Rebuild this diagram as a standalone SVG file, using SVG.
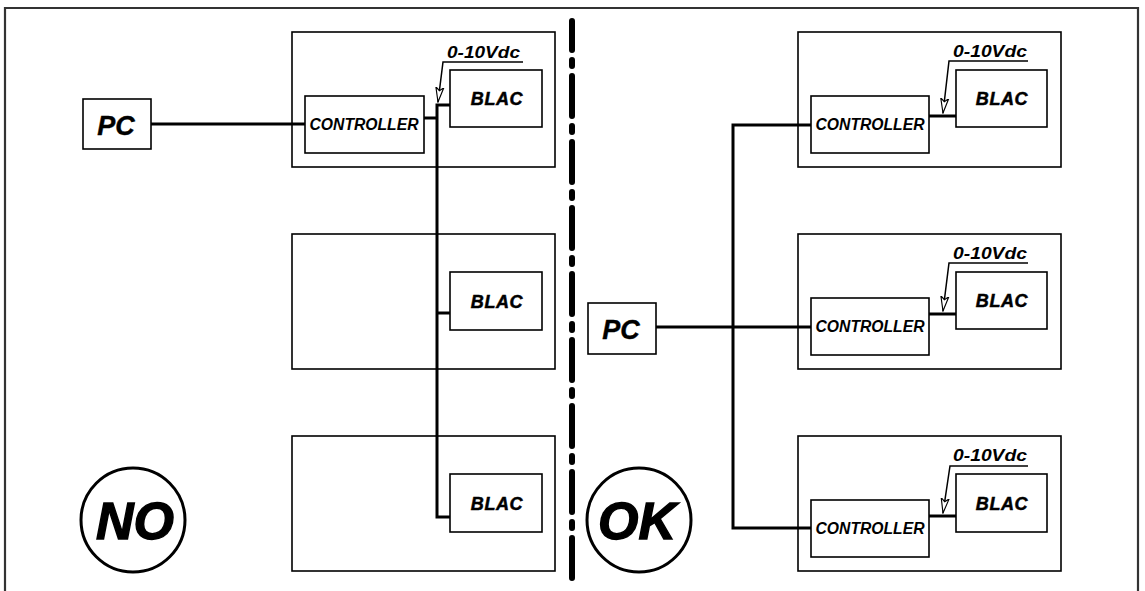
<svg xmlns="http://www.w3.org/2000/svg" width="1145" height="591" viewBox="0 0 1145 591">
<style>
.box{fill:#fff;stroke:#000;stroke-width:1.6}
.wire{fill:none;stroke:#000;stroke-width:3}
.thin{fill:none;stroke:#000;stroke-width:1.5}
.t{font-family:"Liberation Sans",Arial,sans-serif;font-weight:bold;font-style:italic;fill:#000}
.ctl{font-size:16px}
.blac{font-size:18px;stroke:#000;stroke-width:0.5;letter-spacing:0.6px}
.volt{font-size:17px}
.pc{font-size:27px;stroke:#000;stroke-width:0.4}
.big{font-size:52px;stroke:#000;stroke-width:1.4}
</style>
<defs>
<marker id="arr" markerUnits="userSpaceOnUse" markerWidth="16" markerHeight="10" refX="13" refY="3.5" orient="auto" viewBox="0 0 14 7">
<path d="M0,0 L13,3.5 L0,7 L3,3.5 Z" fill="#fff" stroke="#000" stroke-width="1"/>
</marker>
</defs>
<rect width="1145" height="591" fill="#fff"/>
<path d="M5,600 V8 H1138 V600" fill="none" stroke="#333" stroke-width="2.2"/>
<line id="divider" x1="572" y1="21" x2="572" y2="581" stroke="#000" stroke-width="6" stroke-linecap="round" stroke-dasharray="40 10 6 10" stroke-dashoffset="11"/>

<g id="left-pc"><rect class="box" x="83" y="99" width="68" height="50"/><text class="t pc" x="116" y="135" text-anchor="middle">PC</text></g>

<g id="left-unit1">
<rect class="box" x="292" y="32" width="263" height="135"/>
<rect class="box" x="305" y="96" width="119" height="57"/>
<text class="t ctl" x="364" y="130" text-anchor="middle" textLength="109" lengthAdjust="spacingAndGlyphs">CONTROLLER</text>
<rect class="box" x="450" y="70" width="92" height="57"/>
<text class="t blac" x="497" y="105" text-anchor="middle">BLAC</text>
<text class="t volt" x="447" y="58" textLength="73" lengthAdjust="spacingAndGlyphs">0-10Vdc</text>
</g>
<g id="left-unit2">
<rect class="box" x="292" y="234" width="263" height="135"/>
<rect class="box" x="450" y="272" width="92" height="58"/>
<text class="t blac" x="497" y="308" text-anchor="middle">BLAC</text>
</g>
<g id="left-unit3">
<rect class="box" x="292" y="436" width="263" height="135"/>
<rect class="box" x="450" y="474" width="92" height="58"/>
<text class="t blac" x="497" y="510" text-anchor="middle">BLAC</text>
</g>
<g id="no-badge"><circle cx="133" cy="520" r="52" fill="#fff" stroke="#000" stroke-width="3"/><text class="t big" x="135" y="539" text-anchor="middle">NO</text></g>

<g id="right-pc"><rect class="box" x="588" y="303" width="68" height="51"/><text class="t pc" x="621" y="339" text-anchor="middle">PC</text></g>

<g id="right-unit1">
<rect class="box" x="798" y="32" width="263" height="135"/>
<rect class="box" x="811" y="96" width="118" height="57"/>
<text class="t ctl" x="870" y="130" text-anchor="middle" textLength="109" lengthAdjust="spacingAndGlyphs">CONTROLLER</text>
<rect class="box" x="956" y="70" width="91" height="57"/>
<text class="t blac" x="1002" y="105" text-anchor="middle">BLAC</text>
<text class="t volt" x="953" y="57" textLength="74" lengthAdjust="spacingAndGlyphs">0-10Vdc</text>
</g>
<g id="right-unit2">
<rect class="box" x="798" y="234" width="263" height="135"/>
<rect class="box" x="811" y="298" width="118" height="57"/>
<text class="t ctl" x="870" y="332" text-anchor="middle" textLength="109" lengthAdjust="spacingAndGlyphs">CONTROLLER</text>
<rect class="box" x="956" y="272" width="91" height="57"/>
<text class="t blac" x="1002" y="307" text-anchor="middle">BLAC</text>
<text class="t volt" x="953" y="259" textLength="74" lengthAdjust="spacingAndGlyphs">0-10Vdc</text>
</g>
<g id="right-unit3">
<rect class="box" x="798" y="436" width="263" height="135"/>
<rect class="box" x="811" y="500" width="118" height="57"/>
<text class="t ctl" x="870" y="534" text-anchor="middle" textLength="109" lengthAdjust="spacingAndGlyphs">CONTROLLER</text>
<rect class="box" x="956" y="474" width="91" height="58"/>
<text class="t blac" x="1002" y="510" text-anchor="middle">BLAC</text>
<text class="t volt" x="953" y="461" textLength="74" lengthAdjust="spacingAndGlyphs">0-10Vdc</text>
</g>
<g id="ok-badge"><circle cx="639" cy="520" r="52" fill="#fff" stroke="#000" stroke-width="3"/><text class="t big" x="637" y="539" text-anchor="middle">OK</text></g>

<g id="connectors">
<path class="wire" d="M151,124 H305"/>
<path class="wire" d="M450,105 H437 V517 H450"/>
<path class="wire" d="M424,118 H437"/>
<path class="wire" d="M437,313 H450"/>
<path class="wire" d="M811,125 H733 V528 H811"/>
<path class="wire" d="M656,327 H811"/>
<path class="wire" d="M929,116 H956"/>
<path class="wire" d="M929,314 H956"/>
<path class="wire" d="M929,516 H956"/>
<path class="thin" d="M523,62 H443 L438,102" marker-end="url(#arr)"/>
<path class="thin" d="M1028,61 H949 L943,113" marker-end="url(#arr)"/>
<path class="thin" d="M1028,263 H949 L943,311" marker-end="url(#arr)"/>
<path class="thin" d="M1028,466 H950 L943,513" marker-end="url(#arr)"/>
</g>
</svg>
